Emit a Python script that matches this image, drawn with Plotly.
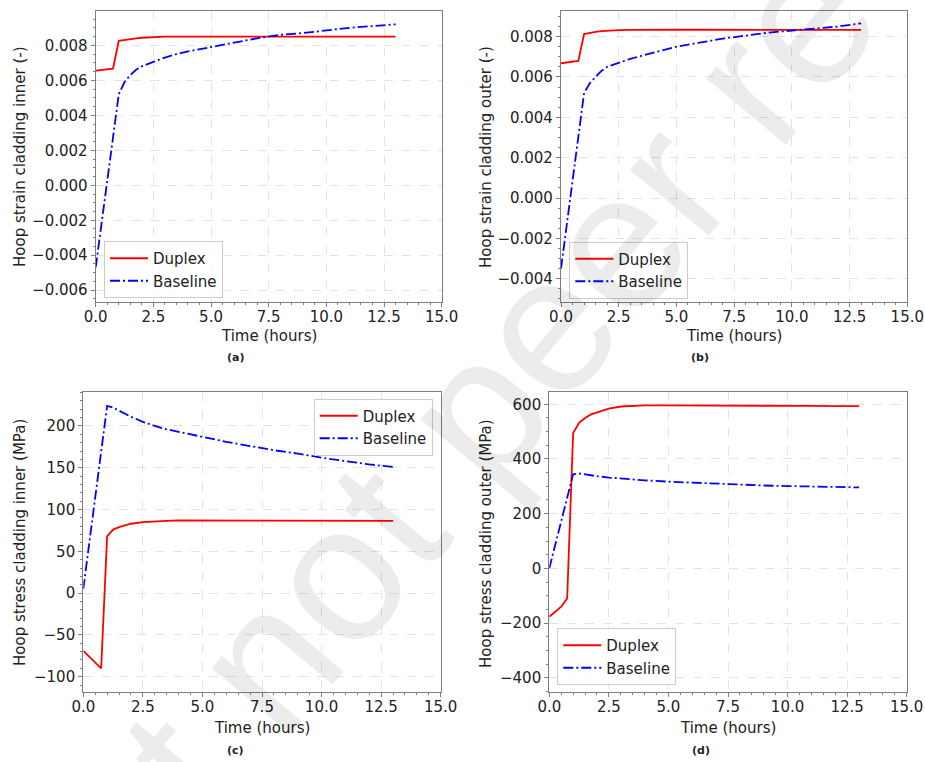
import plotly.graph_objects as go

# Simulation time points (hours)
time_h = [0, 0.25, 0.5, 0.75, 1.0, 1.25, 1.5, 1.75, 2.0, 2.5, 3.0, 3.5, 4.0,
          5.0, 6.0, 7.0, 8.0, 9.0, 10.0, 11.0, 12.0, 13.0]

# (a) hoop strain, cladding inner (-)
strain_inner_duplex = [0.00655, 0.0066, 0.00663, 0.00667, 0.00826, 0.00832, 0.00837, 0.0084,
                       0.00843, 0.00847, 0.00849, 0.0085, 0.0085, 0.0085, 0.0085, 0.0085,
                       0.0085, 0.0085, 0.0085, 0.0085, 0.0085, 0.0085]
strain_inner_baseline = [-0.0047, -0.0022, 0.0003, 0.0028, 0.0052, 0.0059, 0.0063, 0.0066,
                         0.0068, 0.00705, 0.0073, 0.0075, 0.00765, 0.0079, 0.00815, 0.0084,
                         0.0086, 0.0087, 0.00885, 0.0090, 0.0091, 0.0092]

# (b) hoop strain, cladding outer (-)
strain_outer_duplex = [0.00668, 0.00672, 0.00676, 0.0068, 0.00813, 0.0082, 0.00824, 0.00827,
                       0.00829, 0.00832, 0.00833, 0.00834, 0.00834, 0.00834, 0.00834, 0.00834,
                       0.00834, 0.00834, 0.00834, 0.00833, 0.00833, 0.00833]
strain_outer_baseline = [-0.0035, -0.0013, 0.0009, 0.0031, 0.0052, 0.0057, 0.0060, 0.0063,
                         0.0065, 0.0067, 0.0069, 0.00705, 0.0072, 0.0075, 0.0077, 0.0079,
                         0.00805, 0.0082, 0.0083, 0.0084, 0.0085, 0.00866]

# (c) hoop stress, cladding inner (MPa)
stress_inner_duplex = [-69, -76, -83, -90, 68, 76, 79, 81, 83, 85, 86, 86.5, 87, 87, 87, 87,
                       87, 87, 87, 87, 86.5, 86.5]
stress_inner_baseline = [5, 60, 115, 170, 224, 222, 218, 214, 211, 205, 200, 196, 193, 187,
                         181, 176, 171, 167, 162, 158, 154, 151]

# (d) hoop stress, cladding outer (MPa)
stress_outer_duplex = [-177, -158, -140, -110, 495, 532, 550, 563, 570, 584, 592, 595, 596,
                       596, 596, 595, 595, 595, 594, 594, 593, 593]
stress_outer_baseline = [0, 86, 172, 258, 344, 347, 343, 340, 337, 332, 328, 325, 322, 317,
                         313, 309, 306, 303, 301, 299, 297, 296]

series_names = ["Duplex", "Baseline"]
x_ticks = [0, 2.5, 5, 7.5, 10, 12.5, 15]
y_titles = ["Hoop strain cladding inner (-)", "Hoop strain cladding outer (-)",
            "Hoop stress cladding inner (MPa)", "Hoop stress cladding outer (MPa)"]
panel_tags = ["(a)", "(b)", "(c)", "(d)"]

W, H = 925, 762
FONT = "DejaVu Sans"
TXT = "#222222"
FRAME = "#7f7f7f"


def px_x(p):
    return p / W


def px_y(p):
    return 1 - p / H


# panel boxes in pixels: left, right, top, bottom
boxes = [(95.7, 441.7, 11.0, 302.3), (561.0, 907.3, 11.0, 302.3),
         (83.3, 440.7, 392.3, 692.3), (549.3, 906.7, 392.3, 692.3)]
y_ranges = [[-0.00669, 0.00996], [-0.00517, 0.00927], [-118.7, 240.3], [-453.4, 643.9]]
y_dticks = [0.002, 0.002, 50, 200]
y_minor = [0.0005, 0.0005, 10, 50]
y_formats = [".3f", ".3f", "d", "d"]
# legend boxes: left/right, top/bottom (pixels) and anchors
legend_pos = [(104.0, 241.0, "left", "top"), (569.3, 241.5, "left", "top"),
              (432.7, 398.5, "right", "top"), (557.3, 685.0, "left", "bottom")]
# axis-title and panel-tag centres (pixels)
ytitle_xy = [(20, 157), (486, 157), (20, 543), (486, 543)]
xtitle_xy = [(268.7, 336), (734, 336), (262, 727.5), (728, 727.5)]
tag_xy = [(235, 357), (700, 357), (235, 750), (700.7, 750)]

data = [(strain_inner_duplex, strain_inner_baseline),
        (strain_outer_duplex, strain_outer_baseline),
        (stress_inner_duplex, stress_inner_baseline),
        (stress_outer_duplex, stress_outer_baseline)]

fig = go.Figure()
layout = dict(
    template="none",
    width=W, height=H, margin=dict(l=0, r=0, t=0, b=0, pad=0),
    paper_bgcolor="white", plot_bgcolor="white",
    font=dict(family=FONT, size=15, color=TXT),
    annotations=[], showlegend=True,
)

for i in range(4):
    k = "" if i == 0 else str(i + 1)
    duplex, baseline = data[i]
    legend_id = "legend" + k
    fig.add_trace(go.Scatter(
        x=time_h, y=duplex, mode="lines", name=series_names[0],
        line=dict(color="#ff0000", width=1.8),
        xaxis="x" + k, yaxis="y" + k, legend=legend_id))
    fig.add_trace(go.Scatter(
        x=time_h, y=baseline, mode="lines", name=series_names[1],
        line=dict(color="#0000ff", width=1.8, dash="10px,3px,2px,3px"),
        xaxis="x" + k, yaxis="y" + k, legend=legend_id))

    l, r, t, b = boxes[i]
    common = dict(
        automargin=False,
        showline=True, linecolor=FRAME, linewidth=1.2, mirror=True,
        ticks="outside", ticklen=4, tickwidth=1, tickcolor=FRAME,
        showgrid=True, gridcolor="#e3e3e3", griddash="dash", gridwidth=1,
        zeroline=False, tickfont=dict(family=FONT, size=15, color=TXT),
    )
    layout["xaxis" + k] = dict(
        common, domain=[px_x(l), px_x(r)], anchor="y" + k,
        range=[0, 15], tickmode="array", tickvals=x_ticks,
        ticktext=[f"{v:.1f}" for v in x_ticks], ticklabelstandoff=-3,
        minor=dict(ticks="outside", dtick=0.5, tick0=0, ticklen=2,
                   tickcolor=FRAME, showgrid=False),
    )
    layout["yaxis" + k] = dict(
        common, domain=[px_y(b), px_y(t)], anchor="x" + k,
        range=y_ranges[i], dtick=y_dticks[i], tick0=0, tickformat=y_formats[i],
        minor=dict(ticks="outside", dtick=y_minor[i], tick0=0, ticklen=2,
                   tickcolor=FRAME, showgrid=False),
    )

    lx, ly, xa, ya = legend_pos[i]
    layout[legend_id] = dict(
        x=px_x(lx), y=px_y(ly), xanchor=xa, yanchor=ya, itemwidth=38,
        bgcolor="rgba(255,255,255,0.8)", bordercolor="#cccccc", borderwidth=1,
        font=dict(family=FONT, size=15, color=TXT),
    )

    tx, ty = ytitle_xy[i]
    layout["annotations"].append(dict(
        text=y_titles[i], x=px_x(tx), y=px_y(ty), xref="paper", yref="paper",
        showarrow=False, textangle=-90, xanchor="center", yanchor="middle",
        font=dict(family=FONT, size=15, color=TXT)))
    tx, ty = xtitle_xy[i]
    layout["annotations"].append(dict(
        text="Time (hours)", x=px_x(tx), y=px_y(ty), xref="paper", yref="paper",
        showarrow=False, xanchor="center", yanchor="middle",
        font=dict(family=FONT, size=15, color=TXT)))
    tx, ty = tag_xy[i]
    layout["annotations"].append(dict(
        text="<b>" + panel_tags[i] + "</b>", x=px_x(tx), y=px_y(ty),
        xref="paper", yref="paper", showarrow=False,
        xanchor="center", yanchor="middle",
        font=dict(family=FONT, size=11, color=TXT)))

# diagonal preprint watermark
layout["annotations"].append(dict(
    text="Preprint not peer reviewed", x=px_x(491), y=px_y(390),
    xref="paper", yref="paper", showarrow=False, textangle=-50,
    xanchor="center", yanchor="middle",
    font=dict(family="Liberation Sans", size=195, color="rgba(0,0,0,0.075)")))

fig.update_layout(**layout)
fig.write_html("out.html")
